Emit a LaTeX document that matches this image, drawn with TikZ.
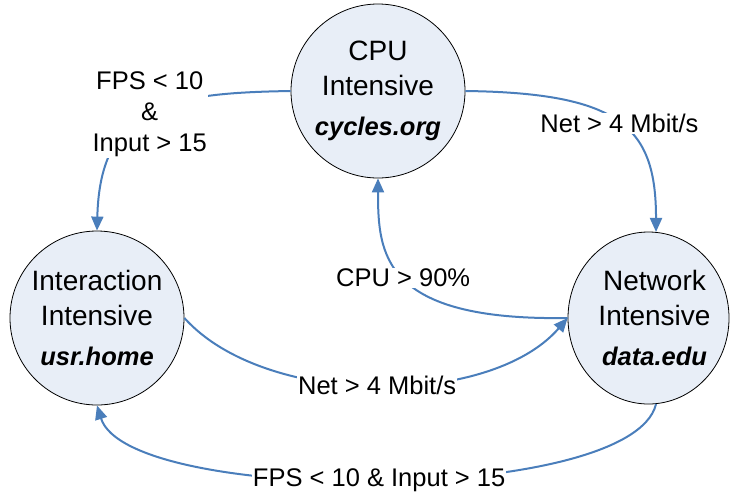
\documentclass[tikz,border=0pt]{standalone}
\usepackage{fontspec}
\setmainfont{Liberation Sans}
\usetikzlibrary{arrows.meta,shapes.geometric}
\definecolor{edgeblue}{RGB}{74,126,187}
\definecolor{nodefill}{RGB}{232,238,247}
\newcommand{\shiftline}[1]{\makebox[0pt]{\hspace*{12pt}#1}}
\begin{document}
\begin{tikzpicture}[x=1pt,y=-1pt,
  state/.style={draw=black, line width=0.8pt, fill=nodefill, inner sep=0pt,
    align=center, font=\fontsize{28}{35}\selectfont},
  conn/.style={draw=edgeblue, line width=2pt, -{Triangle[length=14pt,width=12pt]}},
  lbl/.style={fill=white, inner sep=1pt, align=center,
    font=\fontsize{25.5}{31}\selectfont}]
\useasboundingbox (0,0) rectangle (730,491);
\node[state, circle, minimum size=174pt] (cpu) at (378,91)
  {CPU\\Intensive\\[5pt]{\fontsize{25.5}{30}\selectfont\bfseries\itshape cycles.org}};
\node[state, circle, minimum size=174pt] (inter) at (97,318)
  {Interaction\\Intensive\\[5pt]{\fontsize{25.5}{30}\selectfont\bfseries\itshape usr.home}};
\node[state, ellipse, minimum width=161pt, minimum height=172pt] (net) at (648.5,318)
  {\shiftline{Network}\\\shiftline{Intensive}\\[5pt]\shiftline{\fontsize{25.5}{30}\selectfont\bfseries\itshape data.edu}};
\draw[conn] (cpu.west) .. controls (170,93) and (100,104) ..
  node[lbl] {FPS < 10\\\&\\Input > 15} (inter.north);
\draw[conn] (cpu.east) .. controls (622,93) and (656,128) ..
  node[lbl] {Net > 4 Mbit/s} (net.85);
\draw[conn] (net.west) .. controls (382,321) and (378,254) ..
  node[lbl] {CPU > 90\%} (cpu.south);
\draw[conn] (inter.east) .. controls (265,408) and (490,408) ..
  node[lbl] {Net > 4 Mbit/s} (net.west);
\draw[conn] (net.-85) .. controls (632,505) and (128,505) ..
  node[lbl] {FPS < 10 \& Input > 15} (inter.south);
\end{tikzpicture}
\end{document}
